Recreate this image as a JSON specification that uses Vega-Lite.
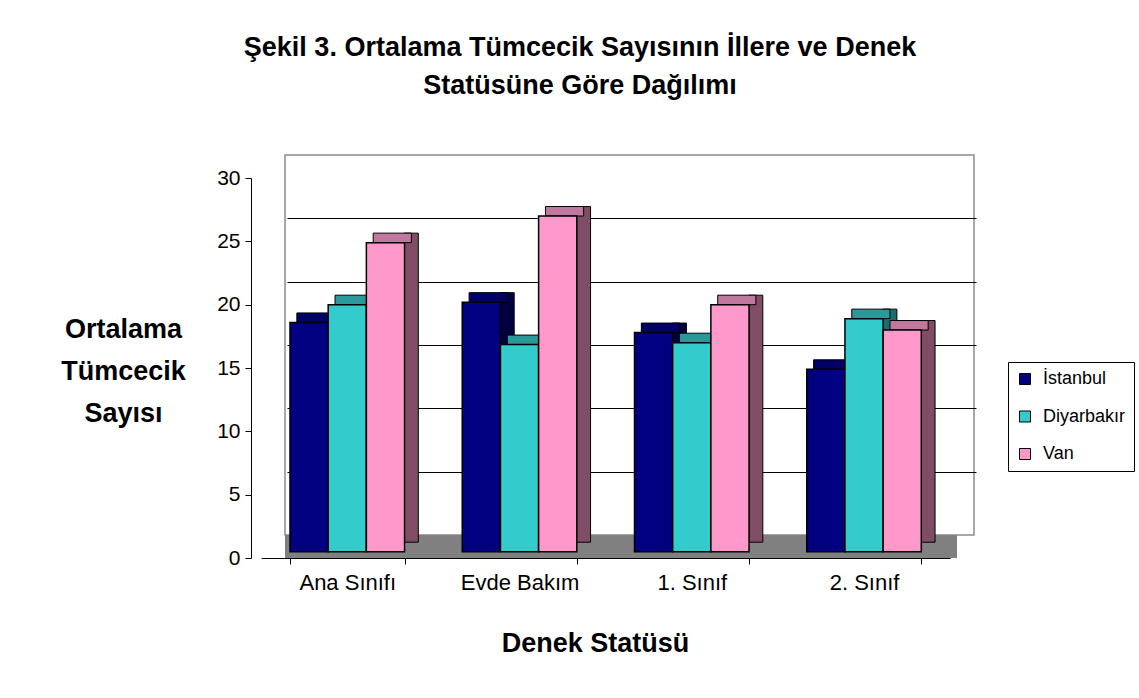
{
  "$schema": "https://vega.github.io/schema/vega-lite/v6.json",
  "width": 689,
  "height": 380,
  "autosize": {"type": "none"},
  "padding": {"left": 285, "top": 155, "right": 165, "bottom": 163},
  "background": "white",
  "config": {
    "font": "Liberation Sans",
    "view": {"stroke": "#8c8c8c", "strokeWidth": 1.5},
    "axis": {"labelColor": "black", "titleColor": "black", "domainColor": "black", "tickColor": "black"}
  },
  "title": {
    "text": ["Şekil 3. Ortalama Tümcecik Sayısının İllere ve Denek", "Statüsüne Göre Dağılımı"],
    "fontSize": 27,
    "fontWeight": "bold",
    "font": "Liberation Sans",
    "color": "black",
    "anchor": "middle",
    "dx": -49.5,
    "lineHeight": 38,
    "offset": 55
  },
  "data": {
    "values": [
      {"durum": "Ana Sınıfı", "il": "İstanbul", "deger": 18.1},
      {"durum": "Ana Sınıfı", "il": "Diyarbakır", "deger": 19.5},
      {"durum": "Ana Sınıfı", "il": "Van", "deger": 24.4},
      {"durum": "Evde Bakım", "il": "İstanbul", "deger": 19.7},
      {"durum": "Evde Bakım", "il": "Diyarbakır", "deger": 16.35},
      {"durum": "Evde Bakım", "il": "Van", "deger": 26.5},
      {"durum": "1. Sınıf", "il": "İstanbul", "deger": 17.3},
      {"durum": "1. Sınıf", "il": "Diyarbakır", "deger": 16.5},
      {"durum": "1. Sınıf", "il": "Van", "deger": 19.5},
      {"durum": "2. Sınıf", "il": "İstanbul", "deger": 14.4},
      {"durum": "2. Sınıf", "il": "Diyarbakır", "deger": 18.4},
      {"durum": "2. Sınıf", "il": "Van", "deger": 17.5}
    ]
  },
  "layer": [
    {
      "mark": {"type": "rule", "color": "#808080", "strokeWidth": 23, "yOffset": 11.5, "xOffset": -17},
      "encoding": {
        "y": {"datum": 0, "type": "quantitative", "scale": {"domain": [0, 30], "nice": false}, "axis": null}
      }
    },
    {
      "mark": {"type": "bar", "width": 14, "yOffset": 7.2, "y2Offset": 7.2, "stroke": "black", "strokeWidth": 1},
      "encoding": {
        "x": {"field": "durum", "type": "nominal", "sort": ["Ana Sınıfı", "Evde Bakım", "1. Sınıf", "2. Sınıf"], "scale": {"paddingInner": 0.335, "paddingOuter": 0.1675, "range": [2, 691]}, "axis": null},
        "xOffset": {"field": "il", "type": "nominal", "sort": ["İstanbul", "Diyarbakır", "Van"], "scale": {"paddingInner": 0, "paddingOuter": 0}},
        "y": {"field": "deger", "type": "quantitative", "scale": {"domain": [0, 30], "nice": false},
              "axis": {"orient": "left", "grid": true, "values": [5, 10, 15, 20, 25], "gridColor": "black", "gridWidth": 1, "labels": false, "ticks": false, "domain": false, "title": null}},
        "y2": {"datum": 0},
        "color": {"field": "il", "type": "nominal", "scale": {"domain": ["İstanbul", "Diyarbakır", "Van"], "range": ["#000040", "#1c6e6e", "#804d66"]}, "legend": null}
      }
    },
    {
      "mark": {"type": "bar", "yOffset": 7.2, "y2Offset": 16.7, "stroke": "black", "strokeWidth": 1},
      "encoding": {
        "x": {"field": "durum", "type": "nominal", "sort": ["Ana Sınıfı", "Evde Bakım", "1. Sınıf", "2. Sınıf"], "scale": {"paddingInner": 0.335, "paddingOuter": 0.1675, "range": [-17, 672]}, "axis": null},
        "xOffset": {"field": "il", "type": "nominal", "sort": ["İstanbul", "Diyarbakır", "Van"], "scale": {"paddingInner": 0, "paddingOuter": 0}},
        "y": {"field": "deger", "type": "quantitative", "scale": {"domain": [0, 30], "nice": false}, "axis": null},
        "y2": {"field": "deger"},
        "color": {"field": "il", "type": "nominal", "scale": {"domain": ["İstanbul", "Diyarbakır", "Van"], "range": ["#000066", "#2a9999", "#c0789e"]}, "legend": null}
      }
    },
    {
      "mark": {"type": "bar", "yOffset": -6.3, "y2Offset": -6.3, "stroke": "black", "strokeWidth": 1.5, "opacity": 1},
      "encoding": {
        "x": {"field": "durum", "type": "nominal", "sort": ["Ana Sınıfı", "Evde Bakım", "1. Sınıf", "2. Sınıf"],
              "scale": {"paddingInner": 0.335, "paddingOuter": 0.1675, "range": [-23.85, 665.15]},
              "axis": {"orient": "bottom", "offset": 23, "tickBand": "extent", "tickOffset": -10.15, "tickSize": 6, "labelFontSize": 22, "labelPadding": 8, "labelAngle": 0, "grid": false,
                       "title": "Denek Statüsü", "titleFontSize": 27, "titleFontWeight": "bold", "titleX": 310, "titleY": 93, "titleBaseline": "alphabetic", "titleAlign": "center", "titleAnchor": null}},
        "xOffset": {"field": "il", "type": "nominal", "sort": ["İstanbul", "Diyarbakır", "Van"], "scale": {"paddingInner": 0, "paddingOuter": 0}},
        "y": {"field": "deger", "type": "quantitative", "scale": {"domain": [0, 30], "nice": false, "range": [403, 23]},
              "axis": {"orient": "left", "offset": 34, "values": [0, 5, 10, 15, 20, 25, 30], "tickSize": 6, "labelFontSize": 21, "labelPadding": 5, "grid": false,
                       "title": ["Ortalama", "Tümcecik", "Sayısı"], "titleFontSize": 27, "titleFontWeight": "bold", "titleAngle": 0, "titleX": -128, "titleY": 182,
                       "titleAlign": "center", "titleBaseline": "alphabetic", "titleLineHeight": 42, "titleAnchor": null}},
        "y2": {"datum": 0},
        "color": {"field": "il", "type": "nominal", "scale": {"domain": ["İstanbul", "Diyarbakır", "Van"], "range": ["#000080", "#33cccc", "#ff99cc"]},
                  "legend": {"orient": "none", "legendX": 723, "legendY": 207, "title": null, "symbolType": "square", "symbolSize": 121,
                             "symbolStrokeColor": "black", "symbolStrokeWidth": 1, "symbolOpacity": 1, "labelFontSize": 18, "labelColor": "black",
                             "rowPadding": 19.5, "labelOffset": 9, "padding": 8, "strokeColor": "black", "fillColor": "white", "labelLimit": 200}}
      }
    }
  ],
  "resolve": {
    "scale": {"x": "independent", "y": "independent", "color": "independent", "xOffset": "independent"},
    "axis": {"x": "independent", "y": "independent"}
  }
}
